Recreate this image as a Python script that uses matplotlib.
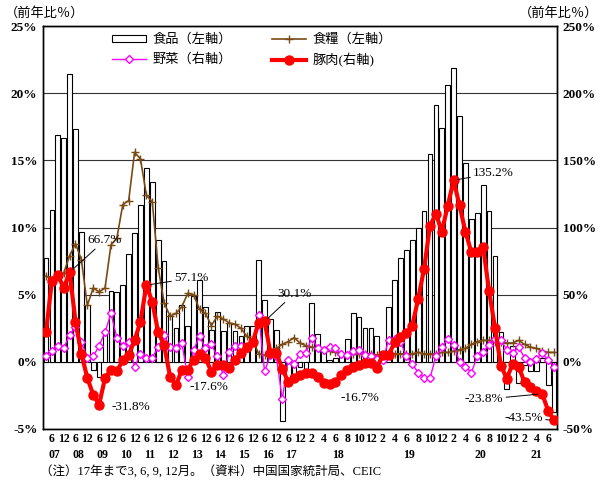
import numpy as np
import matplotlib.pyplot as plt
from matplotlib.patches import Patch
from matplotlib.lines import Line2D
import matplotlib.transforms as mtransforms

plt.rcParams['font.family'] = ['Liberation Serif', 'Noto Sans CJK JP']

# ---- periods: quarterly up to 2017, monthly from 2018 ----
q_years = ['07', '08', '09', '10', '11', '12', '13', '14', '15', '16', '17']
q_months = [3, 6, 9, 12]
m_years = ['18', '19', '20', '21']
n_months_last = 7

# ---- data (y/y %) ----
food = [7.7, 11.3, 16.9, 16.7,
        21.4, 17.3, 9.7, 4.2,
        -0.6, -1.1, 2.4, 5.3,
        5.2, 5.7, 8.0, 9.6,
        11.7, 14.4, 13.4, 9.1,
        7.5, 3.5, 2.5, 4.2,
        2.7, 4.9, 6.1, 4.1,
        2.4, 3.7, 2.3, 2.9,
        2.3, 1.9, 2.7, 2.7,
        7.6, 4.6, 3.2, 2.4,
        -4.4, -1.2, -1.2, -0.4,
        -0.5, 4.4, 2.1, 0.7, 0.1, 0.3, 0.5, 1.7, 3.6, 3.3, 2.5, 2.5,
        1.9, 0.7, 4.1, 6.1, 7.7, 8.3, 9.1, 10.0, 11.2, 15.5, 19.1, 17.4,
        20.6, 21.9, 18.3, 14.8, 10.6, 11.1, 13.2, 11.2, 7.9, 2.2, -2.0, 1.2,
        -1.6, -0.2, -0.7, -0.7, 0.3, -1.7, -3.7]

grain = [6.4, 6.1, 6.3, 6.6,
         7.9, 8.8, 7.6, 4.2,
         5.5, 5.2, 5.5, 8.7,
         9.2, 11.7, 12.0, 15.6,
         15.1, 12.4, 11.9, 7.0,
         4.4, 3.4, 3.6, 4.1,
         5.1, 5.0, 3.9, 3.6,
         2.7, 3.4, 3.2, 2.9,
         2.8, 2.5, 1.9, 1.6,
         0.6, 0.5, 0.8, 1.0,
         1.3, 1.5, 1.8, 1.4,
         1.2, 1.1, 1.0, 0.9, 0.8, 0.7, 0.6, 0.5, 0.6, 0.6, 0.6, 0.6,
         0.5, 0.5, 0.5, 0.6, 0.6, 0.6, 0.6, 0.7, 0.6, 0.6, 0.6, 0.7,
         0.7, 0.8, 0.9, 1.0, 1.3, 1.5, 1.6, 1.6, 1.5, 1.5, 1.4, 1.4,
         1.6, 1.3, 1.1, 1.0, 0.8, 0.7, 0.7]

veg = [4, 8, 12, 10,
       20, 26, 15, 3,
       4, 12, 22, 36,
       18, 12, 15, -4,
       6, 3, 3, 11,
       20, 11, 10, 14,
       -11, 9, 19, 10,
       13, 4, -10, 7,
       12, 12, 10, 15,
       35, -7, 5, 4,
       -28, 1.5, -1.5, 6,
       6.5, 18, 10, 9, 11, 10, 6, 5, 8, 9, 5, 4,
       2, 1, 16, 17, 15, 4, -1.5, -8, -12, -12, 4, 11,
       17, 12.6, 0, -3.5, -8, 4, 7.6, 12.6, 17, 16, 9, 6.8,
       11, 3, 0, 2, 6.8, 1, -3.5]

pork = [22, 60, 65, 55,
        66.7, 30, 6, -12,
        -24.5, -31.8, -12, -6,
        -7, 1, 5, 16,
        30, 57.1, 44.6, 22,
        12.6, -11, -17.6, -6,
        -6, 1.5, 6, 3,
        -7.5, -2, -2, -4.7,
        1.5, 6.5, 11, 15,
        29, 30.1, 6.5, 6.5,
        -5, -15, -12, -9.5,
        -8, -8, -11, -16, -16.7, -15, -10, -6, -4, -2, -1, -1,
        -4.8, 5.1, 5.1, 14.4, 18.2, 21.1, 27.0, 46.7, 69.3, 101.3, 110.2, 97.0,
        116.0, 135.2, 116.4, 96.9, 81.7, 81.6, 85.7, 52.6, 25.5, -2.8, -12.5, -1.3,
        -3.9, -14.9, -18.4, -21.4, -23.8, -36.5, -43.5]

# (index, text, dx, dy in points, ha, leader)
pork_notes = [(4, '66.7%', 13, 23, 'left', True),
              (9, '-31.8%', 9, -1.5, 'left', False),
              (17, '57.1%', 20, 5, 'left', True),
              (22, '-17.6%', 10, -1, 'left', False),
              (37, '30.1%', 9, 20, 'left', True),
              (48, '-16.7%', 8, -10, 'left', False),
              (69, '135.2%', 14, 5, 'left', True),
              (84, '-23.8%', -28, -4, 'right', True),
              (86, '-43.5%', -8, 1.5, 'right', True)]

periods = [(y, m, 'q') for y in q_years for m in q_months]
periods += [(y, m, 'm') for y in m_years for m in range(1, 13)]
periods = periods[:len(q_years) * 4 + (len(m_years) - 1) * 12 + n_months_last]
x = np.arange(len(periods))

fig = plt.figure(figsize=(6.04, 4.82), dpi=100)
ax = fig.add_axes([0.0712, 0.110, 0.851, 0.836])
ax2 = ax.twinx()

for v in range(-5, 26, 5):
    ax.axhline(v, color='#333333', lw=0.8, zorder=0)
ax.bar(x, food, width=0.8, color='white', edgecolor='black', linewidth=0.8, zorder=2)
ax.plot(x, grain, color='#7A4A14', lw=1.2, marker='+', ms=6, mew=1.0, zorder=3)

ax2.plot(x, veg, color='#FF00FF', lw=1.0, marker='D', ms=4.2, mfc='white', mew=1.0, zorder=3)
ax2.plot(x, pork, color='#FF0000', lw=3.0, marker='o', ms=6.5, zorder=4)

ax.set_xlim(-0.5, len(x) - 0.5)
ax.set_ylim(-5, 25)
ax2.set_ylim(-50, 250)
ax.set_yticks(range(-5, 26, 5))
ax.set_yticklabels([f'{v}%' for v in range(-5, 26, 5)])
ax2.set_yticks(range(-50, 251, 50))
ax2.set_yticklabels([f'{v}%' for v in range(-50, 251, 50)])
for a in (ax, ax2):
    a.tick_params(axis='y', length=0, labelsize=9.5, pad=4)
    for lab in a.get_yticklabels():
        lab.set_fontweight('bold')
    for s in a.spines.values():
        s.set_linewidth(1.0)
        s.set_color('black')

tick_pos, tick_lab = [], []
for i, (y, m, kind) in enumerate(periods):
    if (kind == 'q' and m in (6, 12)) or (kind == 'm' and m % 2 == 0):
        tick_pos.append(i)
        tick_lab.append(str(m))
ax.set_xticks(tick_pos)
ax.set_xticklabels(tick_lab, fontsize=8.5, fontweight='bold')
ax.tick_params(axis='x', length=0, pad=3)

trans = mtransforms.blended_transform_factory(ax.transData, ax.transAxes)
for yr in q_years + m_years:
    idx = [i for i, p in enumerate(periods) if p[0] == yr]
    ax.text(np.mean(idx), -0.049, yr, transform=trans, ha='center', va='top',
            fontsize=8.5, fontweight='bold')

for i, txt, dx, dy, ha, leader in pork_notes:
    ax2.annotate(txt, xy=(x[i], pork[i]), xytext=(dx, dy), textcoords='offset points',
                 ha=ha, va='center', fontsize=9.5,
                 arrowprops=dict(arrowstyle='-', color='black', lw=0.7, shrinkA=0, shrinkB=3) if leader else None,
                 zorder=6)

fig.text(0.008, 0.973, '（前年比％）', fontsize=9.5, va='center', ha='left')
fig.text(0.99, 0.973, '（前年比％）', fontsize=9.5, va='center', ha='right')
fig.text(0.066, 0.022, '（注）17年まで3, 6, 9, 12月。（資料）中国国家統計局、CEIC',
         fontsize=9, va='center', ha='left')

handles = [Patch(facecolor='white', edgecolor='black', linewidth=0.8),
           Line2D([], [], color='#FF00FF', lw=1.0, marker='D', ms=4.2, mfc='white'),
           Line2D([], [], color='#7A4A14', lw=1.2, marker='+', ms=6),
           Line2D([], [], color='#FF0000', lw=3.0, marker='o', ms=6.5)]
labels = ['食品（左軸）', '野菜（右軸）', '食糧（左軸）', '豚肉(右軸)']
fig.legend(handles, labels, loc='upper left', bbox_to_anchor=(0.165, 0.955), ncol=2,
           frameon=False, fontsize=9.5, handlelength=2.6, handleheight=0.5,
           columnspacing=3.0, handletextpad=0.5, labelspacing=0.55)

fig.savefig('out.png', dpi=100)
